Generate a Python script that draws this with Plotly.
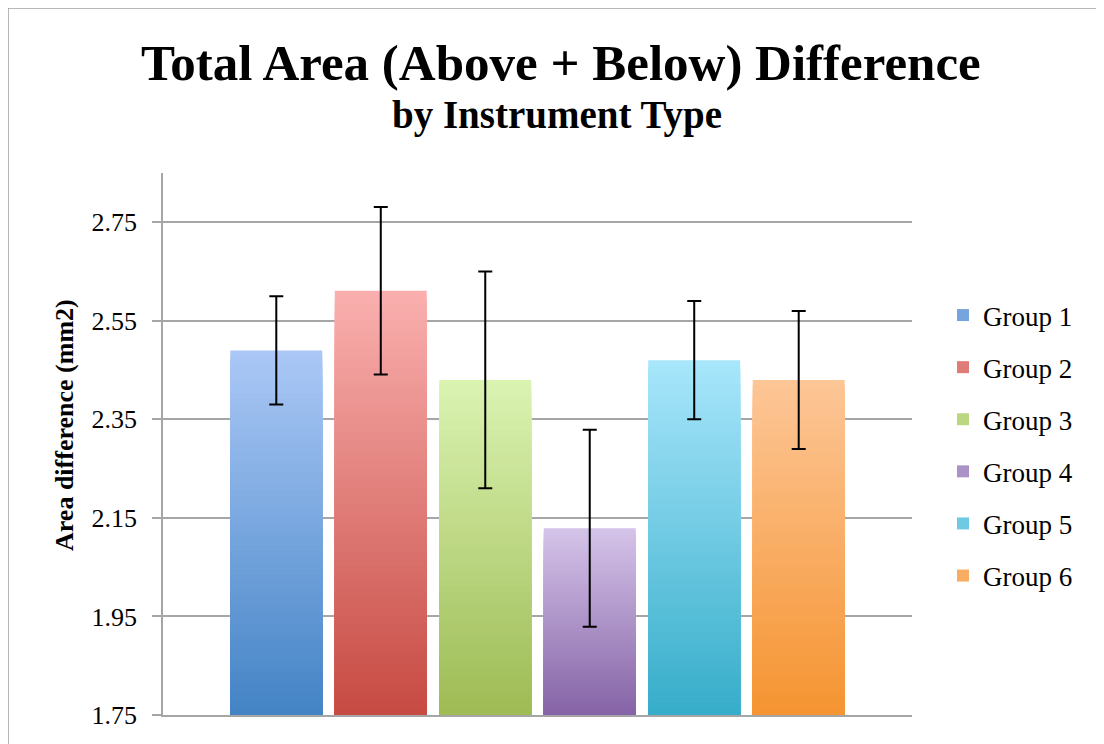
import plotly.graph_objects as go

# ---------------- data ----------------
CATEGORY = ["Instrument Type"]
GROUPS = ["Group 1", "Group 2", "Group 3", "Group 4", "Group 5", "Group 6"]
MEANS = [2.49, 2.611, 2.43, 2.129, 2.47, 2.43]
ERRORS = [0.11, 0.17, 0.22, 0.20, 0.12, 0.14]
Y_TICKS = [1.75, 1.95, 2.15, 2.35, 2.55, 2.75]

TITLE = "Total Area (Above + Below) Difference"
SUBTITLE = "by Instrument Type"
Y_TITLE = "Area difference (mm2)"

# ---------------- style ----------------
TOP_COLORS = ["#abc8f6", "#fab0af", "#dbf3b2", "#d5c4e9", "#a8e6fb", "#fdc697"]
BOTTOM_COLORS = ["#4383c5", "#c64a42", "#9dbb54", "#8563a6", "#36adca", "#f59431"]
Y_MIN, Y_MAX = 1.75, 2.85
N_LAYERS = 60
FONT = "Liberation Serif"
GRID = "#a6a6a6"


def hex_rgb(h):
    h = h.lstrip("#")
    return tuple(int(h[i:i + 2], 16) for i in (0, 2, 4))


def mix(top, bottom, t):
    a, b = hex_rgb(top), hex_rgb(bottom)
    c = [round(b[i] + (a[i] - b[i]) * t) for i in range(3)]
    return "rgb(%d,%d,%d)" % tuple(c)


fig = go.Figure()

for gi, (name, mean, err) in enumerate(zip(GROUPS, MEANS, ERRORS)):
    for k in range(N_LAYERS):
        t = 1 - k / N_LAYERS  # fraction of bar height for this layer top
        height = Y_MIN + (mean - Y_MIN) * t
        fig.add_trace(go.Bar(
            x=CATEGORY, y=[height], name=name,
            offsetgroup=str(gi), legendgroup=name,
            marker=dict(color=mix(TOP_COLORS[gi], BOTTOM_COLORS[gi], t - 0.5 / N_LAYERS),
                        line=dict(width=0)),
            showlegend=(k == N_LAYERS // 2),
            hoverinfo="skip",
        ))
    # transparent bar carrying the error bar so it draws on top
    fig.add_trace(go.Bar(
        x=CATEGORY, y=[mean], name=name,
        offsetgroup=str(gi), legendgroup=name,
        marker=dict(color="rgba(0,0,0,0)", line=dict(width=0)),
        error_y=dict(type="data", array=[err], visible=True,
                     color="black", thickness=2, width=7),
        showlegend=False,
        hovertemplate=name + ": %{y:.2f}<extra></extra>",
    ))

# page offset (body margin) and plot-area geometry, in screenshot pixels
OFF = 8
W, H = 1104, 744
PL, PR, PT, PB = 163 - OFF, 912 - OFF, 173 - OFF, 715 - OFF
L, R, T, B = PL, W - PR, PT, H - PB
PW, PH = PR - PL, PB - PT


def px_x(x):
    return (x - OFF - PL) / PW


def px_y(y):
    return (PB - (y - OFF)) / PH


fig.update_layout(
    width=W, height=H, autosize=False,
    margin=dict(l=L, r=R, t=T, b=B, pad=0),
    paper_bgcolor="white", plot_bgcolor="white",
    barmode="group", bargap=0.163, bargroupgap=0.12,
    font=dict(family=FONT, color="black", size=26),
    showlegend=True,
    legend=dict(
        font=dict(family=FONT, size=27, color="black"),
        x=px_x(943), xanchor="left",
        y=px_y(445.5), yanchor="middle",
        bgcolor="rgba(0,0,0,0)", tracegroupgap=14,
        traceorder="grouped",
    ),
    xaxis=dict(
        type="category", range=[-0.5, 0.5],
        showticklabels=False, ticks="", showgrid=False,
        showline=True, linecolor=GRID, linewidth=2, zeroline=False,
    ),
    yaxis=dict(
        range=[Y_MIN, Y_MAX],
        tickvals=Y_TICKS, ticktext=["%.2f" % v for v in Y_TICKS],
        showgrid=True, gridcolor=GRID, gridwidth=1.5,
        showline=True, linecolor=GRID, linewidth=1.5,
        ticks="outside", ticklen=9, tickwidth=1.5, tickcolor=GRID,
        ticklabelstandoff=10,
        tickfont=dict(family=FONT, size=26, color="black"),
        zeroline=False,
    ),
    annotations=[
        dict(text="<b>" + TITLE + "</b>", xref="paper", yref="paper",
             x=px_x(560.5), y=px_y(63), xanchor="center", yanchor="middle",
             showarrow=False, font=dict(family=FONT, size=51, color="black")),
        dict(text="<b>" + SUBTITLE + "</b>", xref="paper", yref="paper",
             x=px_x(556.5), y=px_y(115), xanchor="center", yanchor="middle",
             showarrow=False, font=dict(family=FONT, size=39, color="black")),
        dict(text="<b>" + Y_TITLE + "</b>", xref="paper", yref="paper",
             x=px_x(64), y=px_y(425), xanchor="center", yanchor="middle",
             textangle=-90, showarrow=False,
             font=dict(family=FONT, size=26, color="black")),
    ],
    shapes=[
        dict(type="rect", xref="paper", yref="paper", layer="below",
             x0=px_x(8), y0=px_y(780), x1=px_x(1130), y1=px_y(8),
             line=dict(color="#a0a0a0", width=1.5), fillcolor="rgba(0,0,0,0)"),
    ],
)

fig.write_html("out.html")
